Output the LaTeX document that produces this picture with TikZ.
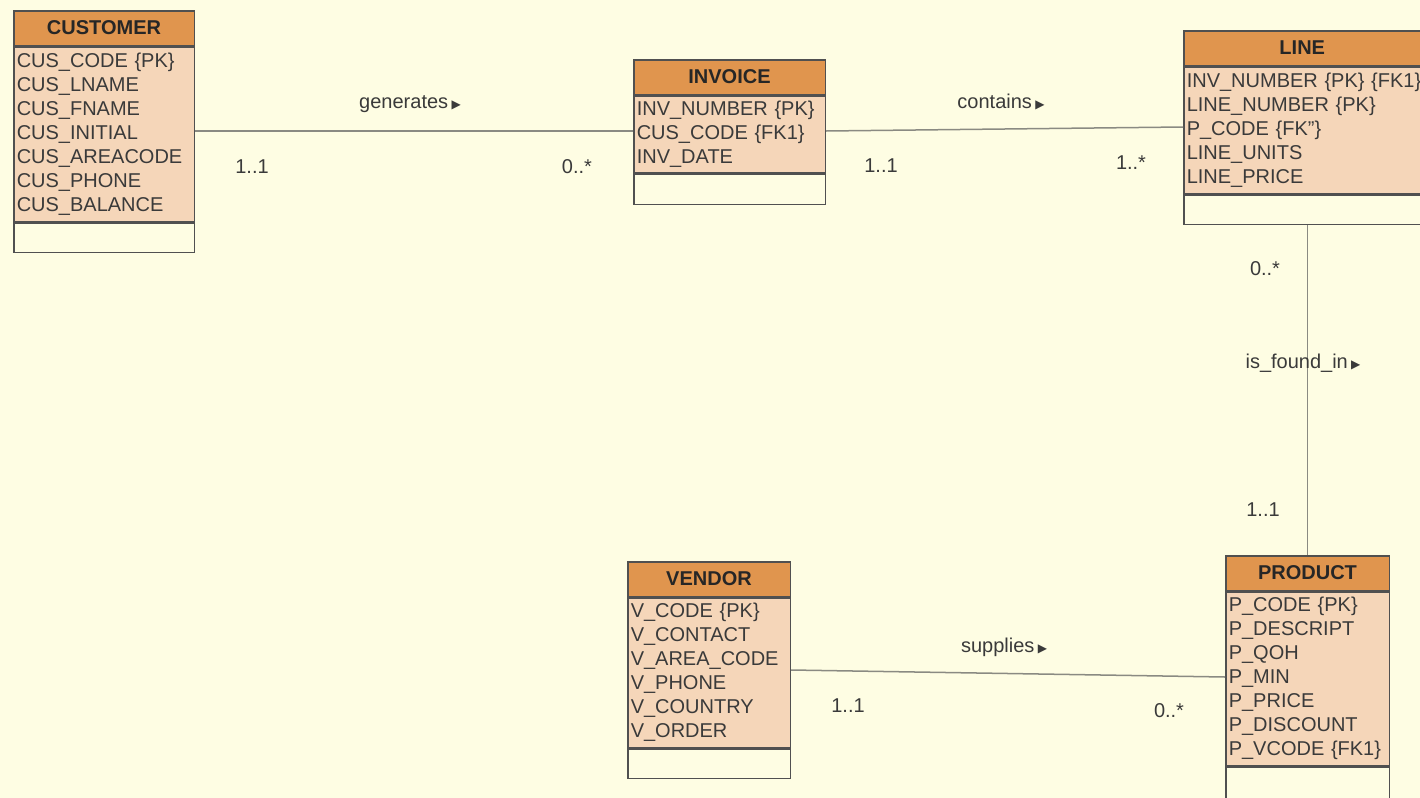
\documentclass[tikz,border=0pt]{standalone}
\usepackage{fontspec}
\setmainfont{Liberation Sans}
\newfontfamily\symfont{DejaVu Sans}
\definecolor{bgc}{HTML}{FEFDE3}
\definecolor{headc}{HTML}{E0954E}
\definecolor{attrc}{HTML}{F5D6B9}
\definecolor{bordc}{HTML}{505050}
\definecolor{linec}{HTML}{8A8A82}
\definecolor{txtc}{HTML}{3A3A3A}
\tikzset{
  hd/.style={draw=bordc, fill=headc, line width=0.75pt, anchor=north west, minimum height=17.25pt, inner sep=0pt, font=\fontsize{10}{12}\selectfont\bfseries, text=black!85},
  attrbox/.style={draw=bordc, fill=attrc, line width=0.75pt, anchor=north west, inner xsep=1.5pt, inner ysep=0pt, align=left, font=\fontsize{10}{12}\selectfont, text=txtc},
  emptybox/.style={draw=bordc, fill=bgc, line width=0.75pt, anchor=north west, inner sep=0pt},
  conn/.style={draw=linec, line width=0.75pt},
  lbl/.style={font=\fontsize{10}{12}\selectfont, text=txtc, inner sep=0pt},
}
\newcommand{\tri}{\,{\symfont\fontsize{6}{8}\selectfont ▶}}
\begin{document}
\begin{tikzpicture}[x=0.5pt,y=-0.5pt]
\fill[bgc] (0,0) rectangle (1420,798);
\useasboundingbox (0,0) rectangle (1420,798);

% CUSTOMER
\node[hd, minimum width=90.25pt] (cushead) at (13,10) {CUSTOMER};
\node[attrbox, minimum height=87.25pt, text width=87.25pt] (cusattr) at (cushead.south west) {CUS\_CODE \{PK\}\\CUS\_LNAME\\CUS\_FNAME\\CUS\_INITIAL\\CUS\_AREACODE\\CUS\_PHONE\\CUS\_BALANCE};
\node[emptybox, minimum width=90.25pt, minimum height=14.75pt] (cusempty) at (cusattr.south west) {};

% INVOICE
\node[hd, minimum width=95.75pt] (invhead) at (633,59) {INVOICE};
\node[attrbox, minimum height=38.25pt, text width=92.75pt] (invattr) at (invhead.south west) {INV\_NUMBER \{PK\}\\CUS\_CODE \{FK1\}\\INV\_DATE};
\node[emptybox, minimum width=95.75pt, minimum height=15.25pt] (invempty) at (invattr.south west) {};

% LINE
\node[hd, minimum width=118.5pt] (linehead) at (1183,30) {LINE};
\node[attrbox, minimum height=63.25pt, text width=115.5pt] (lineattr) at (linehead.south west) {\mbox{INV\_NUMBER \{PK\} \{FK1\}}\\LINE\_NUMBER \{PK\}\\P\_CODE \{FK\symbol{34}\}\\LINE\_UNITS\\LINE\_PRICE};
\node[emptybox, minimum width=118.5pt, minimum height=14.75pt] (lineempty) at (lineattr.south west) {};

% VENDOR
\node[hd, minimum width=81.25pt] (venhead) at (627,561) {VENDOR};
\node[attrbox, minimum height=74.75pt, text width=78.25pt] (venattr) at (venhead.south west) {V\_CODE \{PK\}\\V\_CONTACT\\V\_AREA\_CODE\\V\_PHONE\\V\_COUNTRY\\V\_ORDER};
\node[emptybox, minimum width=81.25pt, minimum height=14.75pt] (venempty) at (venattr.south west) {};

% PRODUCT
\node[hd, minimum width=81.75pt] (prodhead) at (1225,555) {PRODUCT};
\node[attrbox, minimum height=86.75pt, text width=78.75pt] (prodattr) at (prodhead.south west) {P\_CODE \{PK\}\\P\_DESCRIPT\\P\_QOH\\P\_MIN\\P\_PRICE\\P\_DISCOUNT\\P\_VCODE \{FK1\}};
\node[emptybox, minimum width=81.75pt, minimum height=18pt] (prodempty) at (prodattr.south west) {};

% connectors
\draw[conn] ([yshift=1.5pt]cusattr.east) -- ([yshift=1.5pt]invattr.west);
\draw[conn] ([yshift=1.5pt]invattr.east) -- ([yshift=1.5pt]lineattr.west);
\draw[conn] (prodhead.north |- lineempty.south) -- (prodhead.north);
\draw[conn] ([yshift=1.25pt]venattr.east) -- ([yshift=0.75pt]prodattr.west);

% labels
\node[lbl] (l1) at (410,104) {generates\tri};
\node[lbl] (m1a) at (252,167) {1..1};
\node[lbl] (m1b) at (577,167) {0..*};
\node[lbl] (l2) at (1001,102) {contains\tri};
\node[lbl] (m2a) at (881,166) {1..1};
\node[lbl] (m2b) at (1131,163) {1..*};
\node[lbl] (m3a) at (1265,269) {0..*};
\node[lbl] (l3) at (1303,363) {is\_found\_in\tri};
\node[lbl] (m3b) at (1263,510) {1..1};
\node[lbl] (l4) at (1004,647) {supplies\tri};
\node[lbl] (m4a) at (848,706) {1..1};
\node[lbl] (m4b) at (1169,711) {0..*};
\end{tikzpicture}
\end{document}
